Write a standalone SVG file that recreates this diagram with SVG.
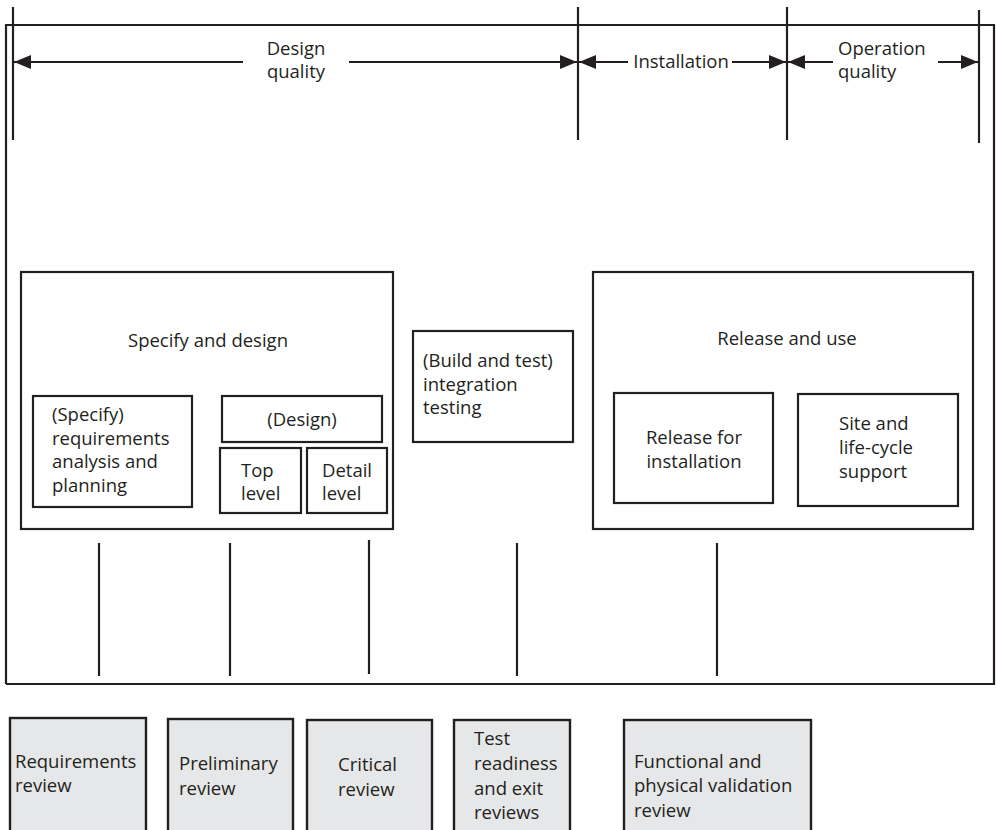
<svg xmlns="http://www.w3.org/2000/svg" width="996" height="830" viewBox="0 0 996 830">
<defs>
<style>
text{font-family:"Open Sans","Liberation Sans",sans-serif;font-size:18.5px;fill:#231f20}
.c{text-anchor:middle}
.box{fill:none;stroke:#231f20;stroke-width:2.2}
.rev{fill:#e6e7e8;stroke:#231f20;stroke-width:2.4}
.ln{stroke:#231f20;stroke-width:2.2;fill:none}
</style>
<marker id="ah" markerUnits="userSpaceOnUse" markerWidth="18" markerHeight="14" refX="17" refY="7" orient="auto" viewBox="0 0 18 14">
<path d="M0,0 L17,7 L0,14 z" fill="#231f20"/>
</marker>
</defs>

<g id="frame">
<path class="ln" d="M6,684 V25 H994 V684 H6"/>
<line class="ln" x1="13" y1="7" x2="13" y2="140"/>
<line class="ln" x1="578" y1="7" x2="578" y2="140"/>
<line class="ln" x1="787" y1="7" x2="787" y2="140"/>
<line class="ln" x1="979" y1="10" x2="979" y2="143"/>
</g>

<g id="phases">
<line class="ln" x1="243" y1="62" x2="14" y2="62" marker-end="url(#ah)"/>
<line class="ln" x1="349" y1="62" x2="577" y2="62" marker-end="url(#ah)"/>
<text class="c" x="296" y="55">Design</text>
<text class="c" x="296" y="78">quality</text>
<line class="ln" x1="628" y1="62" x2="579" y2="62" marker-end="url(#ah)"/>
<line class="ln" x1="732" y1="62" x2="786" y2="62" marker-end="url(#ah)"/>
<text class="c" x="681" y="68">Installation</text>
<line class="ln" x1="833" y1="62" x2="788" y2="62" marker-end="url(#ah)"/>
<line class="ln" x1="938" y1="62" x2="978" y2="62" marker-end="url(#ah)"/>
<text x="838" y="55">Operation</text>
<text x="838" y="78">quality</text>
</g>

<g id="specify-design">
<rect class="box" x="21" y="272" width="372" height="257"/>
<text class="c" x="208" y="347">Specify and design</text>
</g>
<g id="specify">
<rect class="box" x="33" y="396" width="159" height="111"/>
<text x="52" y="421">(Specify)</text>
<text x="52" y="445">requirements</text>
<text x="52" y="468">analysis and</text>
<text x="52" y="492">planning</text>
</g>
<g id="design">
<rect class="box" x="222" y="396" width="160" height="46"/>
<text class="c" x="302" y="426">(Design)</text>
</g>
<g id="top-level">
<rect class="box" x="220" y="448" width="81" height="65"/>
<text x="241" y="477">Top</text>
<text x="241" y="500">level</text>
</g>
<g id="detail-level">
<rect class="box" x="307" y="448" width="80" height="65"/>
<text x="322" y="477">Detail</text>
<text x="322" y="500">level</text>
</g>
<g id="build-test">
<rect class="box" x="413" y="331" width="160" height="111"/>
<text x="423" y="367">(Build and test)</text>
<text x="423" y="391">integration</text>
<text x="423" y="414">testing</text>
</g>
<g id="release-use">
<rect class="box" x="593" y="272" width="380" height="257"/>
<text class="c" x="787" y="345">Release and use</text>
</g>
<g id="release-install">
<rect class="box" x="614" y="393" width="159" height="110"/>
<text class="c" x="694" y="444">Release for</text>
<text class="c" x="694" y="468">installation</text>
</g>
<g id="site-support">
<rect class="box" x="798" y="394" width="160" height="112"/>
<text x="839" y="430">Site and</text>
<text x="839" y="454">life-cycle</text>
<text x="839" y="478">support</text>
</g>

<g id="connectors">
<line class="ln" x1="99" y1="543" x2="99" y2="676"/>
<line class="ln" x1="230" y1="543" x2="230" y2="676"/>
<line class="ln" x1="369" y1="540" x2="369" y2="674"/>
<line class="ln" x1="517" y1="543" x2="517" y2="676"/>
<line class="ln" x1="717" y1="543" x2="717" y2="676"/>
</g>

<g id="requirements-review">
<rect class="rev" x="10" y="718" width="136" height="120"/>
<text x="15" y="768">Requirements</text>
<text x="15" y="792">review</text>
</g>
<g id="preliminary-review">
<rect class="rev" x="168" y="719" width="125" height="120"/>
<text x="179" y="770">Preliminary</text>
<text x="179" y="795">review</text>
</g>
<g id="critical-review">
<rect class="rev" x="307" y="720" width="125" height="120"/>
<text x="338" y="771">Critical</text>
<text x="338" y="796">review</text>
</g>
<g id="test-readiness">
<rect class="rev" x="454" y="720" width="116" height="120"/>
<text x="474" y="745">Test</text>
<text x="474" y="770">readiness</text>
<text x="474" y="795">and exit</text>
<text x="474" y="819">reviews</text>
</g>
<g id="functional-validation">
<rect class="rev" x="624" y="720" width="187" height="120"/>
<text x="634" y="768">Functional and</text>
<text x="634" y="792">physical validation</text>
<text x="634" y="817">review</text>
</g>
</svg>
